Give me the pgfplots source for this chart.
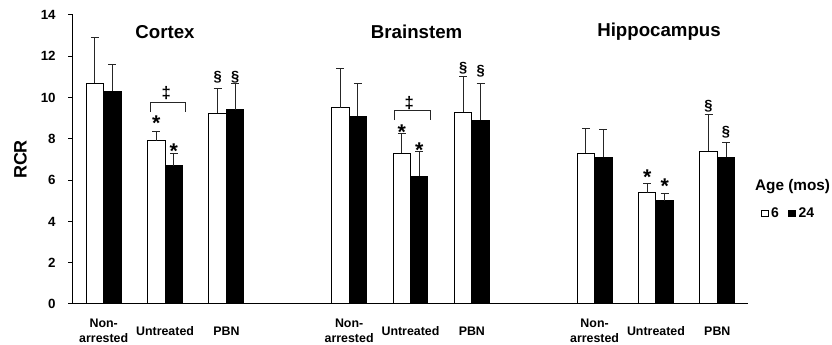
\documentclass[border=0pt]{standalone}
\usepackage{fontspec}
\setmainfont{Liberation Sans}
\usepackage{pgfplots}
\pgfplotsset{compat=1.18}
\begin{document}
\begin{tikzpicture}
\path[use as bounding box] (-54.75pt,-30.75pt) rectangle (569.25pt,228pt);
\begin{axis}[
  scale only axis,
  width=506.25pt, height=216.75pt,
  at={(0,0)}, anchor=south west,
  xmin=-0.5, xmax=10.5, ymin=0, ymax=14,
  axis x line*=bottom, axis y line*=left,
  axis line style={line width=0.75pt, black},
  ybar=0pt, bar width=0.285,
  ytick={0,2,...,14},
  xtick={0,1,2,4,5,6,8,9,10},
  xticklabels={{Non-\\arrested},Untreated,PBN,{Non-\\arrested},Untreated,PBN,{Non-\\arrested},Untreated,PBN},
  xticklabel style={align=center, anchor=center, yshift=-16.8pt, font=\fontsize{9.3}{11}\selectfont\bfseries},
  x tick style={draw=none},
  y tick style={line width=0.75pt, black},
  tick align=outside, major tick length=3.5pt,
  yticklabel style={font=\fontsize{10}{11}\selectfont\bfseries, xshift=-6pt},
  /pgf/number format/assume math mode=true,
  ylabel={RCR},
  ylabel style={at={(axis description cs:-0.078,0.5)}, anchor=center, font=\fontsize{13.5}{14}\selectfont\bfseries},
  error bars/y dir=plus, error bars/y explicit,
  error bars/error bar style={line width=0.75pt, black!85},
  error bars/error mark options={line width=0.75pt, black!85, mark size=3pt, rotate=90},
  legend columns=2,
  legend style={draw=none, fill=none, at={(axis description cs:1.0188,0.3138)}, anchor=west,
    font=\fontsize{10.5}{11}\selectfont\bfseries, inner sep=0pt,
    /tikz/every even column/.append style={column sep=5pt}},
  legend image code/.code={\draw[#1, line width=0.5pt] (0pt,-2.6pt) rectangle (5.2pt,2.6pt);},
  clip=false,
]
\addplot[fill=white, draw=black, line width=0.75pt, bar shift=-0.1425] coordinates {
  (0,10.7) +- (0,2.2)
  (1,7.9) +- (0,0.45)
  (2,9.25) +- (0,1.2)
  (4,9.5) +- (0,1.9)
  (5,7.3) +- (0,0.95)
  (6,9.3) +- (0,1.7)
  (8,7.3) +- (0,1.2)
  (9,5.4) +- (0,0.45)
  (10,7.4) +- (0,1.8)
};
\addlegendentry{6}
\addplot[fill=black, draw=black, line width=0.75pt, bar shift=0.1425] coordinates {
  (0,10.3) +- (0,1.3)
  (1,6.7) +- (0,0.57)
  (2,9.4) +- (0,1.3)
  (4,9.1) +- (0,1.6)
  (5,6.2) +- (0,1.2)
  (6,8.9) +- (0,1.8)
  (8,7.1) +- (0,1.35)
  (9,5.0) +- (0,0.33)
  (10,7.1) +- (0,0.73)
};
\addlegendentry{24}
% group titles
\node[font=\fontsize{14}{15}\selectfont\bfseries] at (axis cs:1,13.18) {Cortex};
\node[font=\fontsize{14}{15}\selectfont\bfseries] at (axis cs:5.1,13.18) {Brainstem};
\node[font=\fontsize{14}{15}\selectfont\bfseries] at (axis cs:9.05,13.18) {Hippocampus};
% stars
\tikzset{star/.style={anchor=base, yshift=-9.3pt, font=\fontsize{16}{16}\selectfont\bfseries, inner sep=0pt}}
\node[star] at (axis cs:0.8575,9.01) {*};
\node[star] at (axis cs:1.1425,7.67) {*};
\node[star] at (axis cs:4.8575,8.56) {*};
\node[star] at (axis cs:5.1425,7.70) {*};
\node[star] at (axis cs:8.8575,6.41) {*};
\node[star] at (axis cs:9.1425,5.93) {*};
% section signs
\tikzset{sect/.style={anchor=center, font=\fontsize{11}{11}\selectfont\bfseries, inner sep=0pt}}
\node[sect] at (axis cs:1.8575,11.01) {§};
\node[sect] at (axis cs:2.1425,11.01) {§};
\node[sect] at (axis cs:5.8575,11.42) {§};
\node[sect] at (axis cs:6.1425,11.26) {§};
\node[sect] at (axis cs:9.8575,9.59) {§};
\node[sect] at (axis cs:10.1425,8.32) {§};
% brackets
\draw[line width=0.75pt, black!85] (axis cs:0.764,9.32) -- (axis cs:0.764,9.77) -- (axis cs:1.338,9.77) -- (axis cs:1.338,9.32);
\draw[line width=0.75pt, black!85] (axis cs:4.743,8.91) -- (axis cs:4.743,9.35) -- (axis cs:5.322,9.35) -- (axis cs:5.322,8.91);
\node[sect, font=\fontsize{12.5}{13}\selectfont\bfseries] at (axis cs:1.02,10.24) {‡};
\node[sect, font=\fontsize{12.5}{13}\selectfont\bfseries] at (axis cs:4.98,9.75) {‡};
% legend title
\node[font=\fontsize{11.5}{12}\selectfont\bfseries] at (axis description cs:1.066,0.405) {Age (mos)};
\end{axis}
\end{tikzpicture}
\end{document}
